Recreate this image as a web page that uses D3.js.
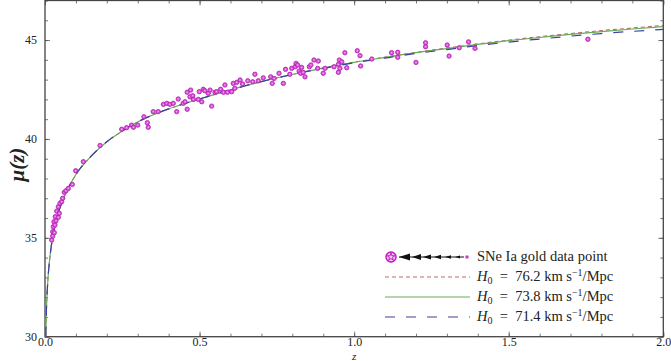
<!DOCTYPE html>
<html>
<head>
<meta charset="utf-8">
<script src="https://cdn.jsdelivr.net/npm/d3@7"></script>
<style>
  body { margin: 0; background: #fff; }
  svg text { font-family: "Liberation Serif", "DejaVu Serif", serif; fill: #222; }
</style>
</head>
<body>
<div id="chart"></div>
<script>
// redshift grid for the model curves
const zGrid = [0.0025, 0.004, 0.006, 0.01, 0.015, 0.02, 0.03, 0.04, 0.06, 0.08, 0.1, 0.15, 0.2, 0.25, 0.3, 0.35, 0.4, 0.45, 0.5,
  0.6, 0.7, 0.8, 0.9, 1.0, 1.1, 1.2, 1.3, 1.4, 1.5, 1.6, 1.7, 1.8, 1.9, 2.0];
const muH762 = [30.0, 31.05, 31.92, 33.02, 33.9, 34.55, 35.45, 36.1, 37.0, 37.66, 38.2, 39.14, 39.86, 40.4, 40.86, 41.22, 41.52, 41.78, 42.02,
  42.48, 42.9, 43.26, 43.59, 43.88, 44.135, 44.38, 44.595, 44.81, 44.995, 45.17, 45.33, 45.48, 45.61, 45.74];
const muH738 = [30.0, 31.05, 31.92, 33.02, 33.9, 34.55, 35.45, 36.1, 37.0, 37.66, 38.2, 39.14, 39.86, 40.4, 40.86, 41.22, 41.52, 41.78, 42.02,
  42.48, 42.9, 43.26, 43.58, 43.87, 44.12, 44.36, 44.57, 44.78, 44.97, 45.13, 45.29, 45.43, 45.56, 45.68];
const muH714 = [30.0, 31.05, 31.92, 33.02, 33.9, 34.55, 35.45, 36.1, 37.0, 37.66, 38.2, 39.14, 39.86, 40.4, 40.86, 41.22, 41.52, 41.78, 42.02,
  42.48, 42.9, 43.26, 43.57, 43.85, 44.09, 44.32, 44.52, 44.72, 44.9, 45.05, 45.2, 45.33, 45.44, 45.54];

// SNe Ia gold sample
const snZ = [0.0217, 0.0249, 0.0249, 0.0268, 0.0291, 0.0301, 0.0323, 0.0333, 0.0356, 0.0378, 0.043, 0.043, 0.0462, 0.0485, 0.054,
  0.0572, 0.0624, 0.0679, 0.0754, 0.0883, 0.0993, 0.124, 0.178,
  0.248, 0.264, 0.28, 0.286, 0.3, 0.32, 0.331, 0.334, 0.35, 0.366, 0.383, 0.394, 0.404, 0.415, 0.426, 0.431, 0.447, 0.453,
  0.46, 0.46, 0.469, 0.471, 0.478, 0.48, 0.496, 0.499, 0.507, 0.512, 0.517, 0.528, 0.534, 0.539, 0.55, 0.555, 0.568, 0.577,
  0.582, 0.59, 0.604, 0.609, 0.614, 0.62, 0.631, 0.639, 0.656, 0.672, 0.679, 0.69, 0.706, 0.73, 0.735, 0.741, 0.757, 0.771,
  0.778, 0.792, 0.798, 0.809, 0.812, 0.817, 0.822, 0.827, 0.83, 0.835, 0.841, 0.855, 0.86, 0.87, 0.882, 0.884, 0.9, 0.906,
  0.935, 0.949, 0.949, 0.952, 0.954, 0.96, 0.97, 0.976, 1.01, 1.019, 1.021, 1.057, 1.121, 1.141, 1.141, 1.2, 1.231, 1.231,
  1.301, 1.307, 1.34, 1.37, 1.391, 1.756];
const snMu = [34.89, 35.09, 35.31, 35.56, 35.81, 35.26, 35.65, 36.07, 35.86, 36.35, 36.57, 36.04, 36.24, 36.74, 36.83,
  37.0, 37.3, 37.38, 37.5, 37.7, 38.39, 38.85, 39.67,
  40.49, 40.57, 40.7, 40.59, 40.7, 41.12, 40.82, 40.59, 41.38, 41.38, 41.75, 41.8, 41.75, 41.8, 41.38, 42.02, 41.8, 41.88,
  41.5, 42.36, 42.13, 42.47, 42.18, 42.0, 42.0, 42.39, 41.88, 42.51, 42.44, 42.31, 42.47, 41.66, 42.36, 42.39, 42.51, 42.36,
  42.73, 42.36, 42.39, 42.81, 42.56, 42.86, 42.98, 42.78, 42.94, 42.89, 43.27, 42.94, 43.09, 43.14, 42.81, 43.06, 43.32, 42.81,
  43.52, 43.27, 43.57, 43.65, 43.82, 43.74, 43.43, 43.32, 43.62, 43.37, 43.14, 43.65, 43.74, 43.99, 43.57, 43.94, 43.32, 43.57,
  43.65, 43.77, 43.37, 43.99, 43.57, 43.9, 44.36, 43.6, 44.46, 44.21, 43.69, 44.04, 44.36, 44.38, 44.13, 43.87, 44.86, 44.66,
  44.75, 44.19, 44.61, 44.91, 44.58, 45.04];

const xTicks = [0.0, 0.5, 1.0, 1.5, 2.0];
const yTicks = [30, 35, 40, 45];
const legendH0 = ["76.2", "73.8", "71.4"];

const W = 671, H = 361;
const m = { left: 45, right: 7.7, top: 0.5, bottom: 24.3 };
const svg = d3.select("#chart").append("svg").attr("width", W).attr("height", H);

const x = d3.scaleLinear().domain([0, 2]).range([m.left, W - m.right]);
const y = d3.scaleLinear().domain([30, 47]).range([H - m.bottom, m.top]);

svg.append("defs").append("clipPath").attr("id", "plotclip").append("rect")
  .attr("x", x(0)).attr("y", y(47)).attr("width", x(2) - x(0)).attr("height", y(30) - y(47));

// axes with inward ticks on all four sides
const axisCol = "#555";
const minorX = d3.range(0, 2.0001, 0.1), minorY = d3.range(30, 47.0001, 1);
function drawAxis(gen, tf, labels) {
  const g = svg.append("g").attr("transform", tf).call(gen);
  g.select(".domain").remove();
  g.selectAll("line").attr("stroke", axisCol).attr("stroke-width", 0.8);
  g.selectAll("text").style("font-size", "12px").attr("fill", "#333").style("font-family", "Liberation Serif, serif");
  if (!labels) g.selectAll("text").remove();
  return g;
}
// minor
drawAxis(d3.axisBottom(x).tickValues(minorX).tickSize(-3).tickFormat(""), `translate(0,${y(30)})`, false);
drawAxis(d3.axisTop(x).tickValues(minorX).tickSize(-3).tickFormat(""), `translate(0,${y(47)})`, false);
drawAxis(d3.axisLeft(y).tickValues(minorY).tickSize(-3).tickFormat(""), `translate(${x(0)},0)`, false);
drawAxis(d3.axisRight(y).tickValues(minorY).tickSize(-3).tickFormat(""), `translate(${x(2)},0)`, false);
// major
drawAxis(d3.axisBottom(x).tickValues(xTicks).tickSize(-5).tickPadding(1).tickFormat(d3.format(".1f")), `translate(0,${y(30)})`, true);
drawAxis(d3.axisTop(x).tickValues(xTicks).tickSize(-5).tickFormat(""), `translate(0,${y(47)})`, false);
drawAxis(d3.axisLeft(y).tickValues(yTicks).tickSize(-5).tickPadding(8).tickFormat(d3.format("d")), `translate(${x(0)},0)`, true);
drawAxis(d3.axisRight(y).tickValues(yTicks).tickSize(-5).tickFormat(""), `translate(${x(2)},0)`, false);

svg.append("rect").attr("x", x(0)).attr("y", y(47)).attr("width", x(2) - x(0)).attr("height", y(30) - y(47))
  .attr("fill", "none").attr("stroke", "#444").attr("stroke-width", 1.3);

// model curves
const curves = [
  { mu: muH762, color: "#b86a6a", width: 1.1, dash: "4,3" },
  { mu: muH738, color: "#6aaa58", width: 1.2, dash: null },
  { mu: muH714, color: "#3e3ea8", width: 1.2, dash: "10,11" }
];
const line = d3.line().x(d => x(d[0])).y(d => y(d[1])).curve(d3.curveMonotoneX);
const plot = svg.append("g").attr("clip-path", "url(#plotclip)");
curves.forEach(c => {
  plot.append("path").datum(zGrid.map((z, i) => [z, c.mu[i]]))
    .attr("d", line).attr("fill", "none").attr("stroke", c.color)
    .attr("stroke-width", c.width).attr("stroke-dasharray", c.dash);
});

// data points
const pts = plot.selectAll(".sn").data(snZ.map((z, i) => [z, snMu[i]])).enter().append("g")
  .attr("class", "sn").attr("transform", d => `translate(${x(d[0])},${y(d[1])})`);
pts.append("circle").attr("r", 2.2).attr("fill", "#d65ad6").attr("stroke", "#b418b4").attr("stroke-width", 0.8);
pts.append("circle").attr("r", 0.7).attr("fill", "#f0b8f0");

// axis titles
svg.append("text").attr("transform", `translate(24,${(y(30) + y(47)) / 2 - 4}) rotate(-90)`)
  .attr("text-anchor", "middle").style("font-size", "21px").style("font-style", "italic").style("font-weight", "bold")
  .text("μ(z)");
svg.append("text").attr("x", x(1)).attr("y", 359.5).attr("text-anchor", "middle")
  .style("font-size", "11px").style("font-style", "italic").text("z");

// legend
const lg = svg.append("g");
const rowY = [257, 277, 297, 317];
const symX0 = 385, symX1 = 470, textX = 477;
// SNe symbol: circled star, arrow, dot
const star = d3.symbol().type(d3.symbolStar).size(18);
lg.append("circle").attr("cx", 391).attr("cy", rowY[0]).attr("r", 5).attr("fill", "#f3c8f3").attr("stroke", "#c010c0").attr("stroke-width", 1.4);
lg.append("path").attr("d", star()).attr("transform", `translate(391,${rowY[0]})`).attr("fill", "none").attr("stroke", "#c010c0").attr("stroke-width", 0.9);
lg.append("line").attr("x1", 399).attr("x2", 464).attr("y1", rowY[0]).attr("y2", rowY[0]).attr("stroke", "#111").attr("stroke-width", 1);
[[399, 11, 3.6], [412, 9, 3], [423, 8, 2.6], [434, 7, 2.2], [445, 6, 1.8], [455, 5, 1.5]].forEach(a => {
  lg.append("path").attr("d", `M${a[0]},${rowY[0]}L${a[0] + a[1]},${rowY[0] - a[2]}L${a[0] + a[1]},${rowY[0] + a[2]}Z`).attr("fill", "#111");
});
lg.append("circle").attr("cx", 467).attr("cy", rowY[0]).attr("r", 1.8).attr("fill", "#d040d0");
lg.append("text").attr("x", textX).attr("y", rowY[0] + 4).style("font-size", "14.5px").text("SNe Ia gold data point");

curves.forEach((c, i) => {
  const yy = rowY[i + 1];
  lg.append("line").attr("x1", symX0).attr("x2", symX1).attr("y1", yy).attr("y2", yy)
    .attr("stroke", c.color).attr("stroke-width", c.width).attr("stroke-dasharray", c.dash);
  const t = lg.append("text").attr("x", textX).attr("y", yy + 4).style("font-size", "14.5px");
  t.append("tspan").style("font-style", "italic").text("H");
  t.append("tspan").attr("dy", 2.5).style("font-size", "10px").text("0");
  t.append("tspan").attr("dy", -2.5).text("\u2002=\u2002" + legendH0[i] + " km s");
  t.append("tspan").attr("dy", -5).style("font-size", "10px").text("−1");
  t.append("tspan").attr("dy", 5).text("/Mpc");
});
</script>
</body>
</html>
